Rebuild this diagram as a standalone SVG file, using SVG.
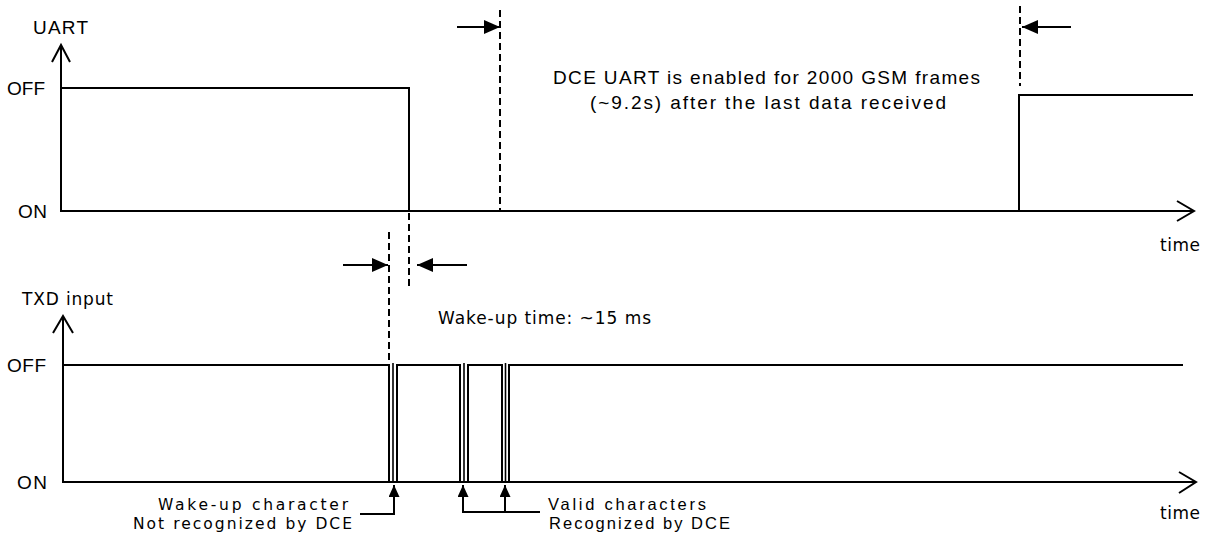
<svg xmlns="http://www.w3.org/2000/svg" width="1207" height="536" viewBox="0 0 1207 536">
<style>
  .ln{fill:none;stroke:#000;stroke-width:2}
  .sg{fill:none;stroke:#000;stroke-width:2;stroke-linejoin:miter}
  .thin{fill:none;stroke:#000;stroke-width:1.6}
  .dash{fill:none;stroke:#000;stroke-width:2;stroke-dasharray:7 4}
  .a{font-family:"Liberation Sans",Arial,sans-serif;font-size:19px;fill:#000}
  .d{font-family:"DejaVu Sans","Noto Sans",sans-serif;font-size:17px;fill:#000}
  .sa{font-family:"Liberation Sans",Arial,sans-serif;font-size:16.5px;fill:#000}
  .sd{font-family:"DejaVu Sans","Noto Sans",sans-serif;font-size:15.5px;fill:#000}
</style>
<defs>
  <marker id="ah" viewBox="0 0 16 14" refX="16" refY="7" markerWidth="16" markerHeight="14" markerUnits="userSpaceOnUse" orient="auto">
    <path d="M0,0 L16,7 L0,14 Z" fill="#000"/>
  </marker>
  <marker id="ua" viewBox="0 0 12 11" refX="12" refY="5.5" markerWidth="12" markerHeight="11" markerUnits="userSpaceOnUse" orient="auto">
    <path d="M0,0 L12,5.5 L0,11 Z" fill="#000"/>
  </marker>
</defs>
<rect width="1207" height="536" fill="#fff"/>

<g id="uart-axis">
  <path class="ln" d="M61,212 V45"/>
  <polyline class="ln" points="52,62 61,45 70,62"/>
  <path class="ln" d="M61,211 H1194"/>
  <polyline class="ln" points="1177,201 1194,211 1177,221"/>
  <text class="a" x="33" y="34" textLength="55" lengthAdjust="spacing">UART</text>
  <text class="a" x="7" y="95" textLength="38" lengthAdjust="spacing">OFF</text>
  <text class="a" x="18" y="218" textLength="29" lengthAdjust="spacing">ON</text>
  <text class="d" x="1160" y="251" textLength="40" lengthAdjust="spacing">time</text>
</g>

<g id="uart-signal">
  <path class="sg" d="M62,88 H409 V211"/>
  <path class="sg" d="M1019,211 V95 H1193"/>
</g>

<g id="txd-axis">
  <path class="ln" d="M63,483 V316"/>
  <polyline class="ln" points="53,333 63,316 73,333"/>
  <path class="ln" d="M63,482 H1196"/>
  <polyline class="ln" points="1179,472 1196,482 1179,493"/>
  <text class="d" x="22" y="305" textLength="91" lengthAdjust="spacing">TXD input</text>
  <text class="a" x="7" y="372" textLength="39" lengthAdjust="spacing">OFF</text>
  <text class="a" x="17" y="489" textLength="30" lengthAdjust="spacing">ON</text>
  <text class="d" x="1160" y="519" textLength="40" lengthAdjust="spacing">time</text>
</g>

<g id="txd-signal">
  <path class="sg" d="M63,365 H389 V482"/>
  <path class="thin" d="M393,363 V482"/>
  <path class="sg" d="M397,482 V365 H460 V482"/>
  <path class="thin" d="M464,363 V482"/>
  <path class="sg" d="M468,482 V365 H502 V482"/>
  <path class="thin" d="M505.5,363 V482"/>
  <path class="sg" d="M509,482 V365 H1183"/>
</g>

<g id="connectors">
  <path class="dash" d="M500,10 V211"/>
  <path class="dash" d="M1020,6 V86"/>
  <path class="dash" d="M409,213 V287"/>
  <path class="dash" d="M389,232 V365"/>
  <path class="ln" d="M457,27 H500" marker-end="url(#ah)"/>
  <path class="ln" d="M1071,27 H1022" marker-end="url(#ah)"/>
  <path class="ln" d="M343,265 H388" marker-end="url(#ah)"/>
  <path class="ln" d="M467,265 H417" marker-end="url(#ah)"/>
  <path class="ln" d="M360,514 H394 V485" marker-end="url(#ua)"/>
  <path class="ln" d="M463,485 V512 H540"/>
  <path class="ln" d="M463,500 V485" marker-end="url(#ua)"/>
  <path class="ln" d="M505,512 V485" marker-end="url(#ua)"/>
</g>

<g id="labels">
  <text class="a" x="553" y="84" textLength="427" lengthAdjust="spacing">DCE UART is enabled for 2000 GSM frames</text>
  <text class="a" x="590" y="109" textLength="356" lengthAdjust="spacing">(~9.2s) after the last data received</text>
  <text class="d" x="438" y="324" textLength="213" lengthAdjust="spacing">Wake-up time: ~15 ms</text>
  <text class="sd" x="158" y="510" textLength="190" lengthAdjust="spacing">Wake-up character</text>
  <text class="sd" x="133" y="529" textLength="219" lengthAdjust="spacing">Not recognized by DCE</text>
  <text class="sa" x="548" y="510" textLength="158" lengthAdjust="spacing">Valid characters</text>
  <text class="sa" x="549" y="529" textLength="181" lengthAdjust="spacing">Recognized by DCE</text>
</g>
</svg>
